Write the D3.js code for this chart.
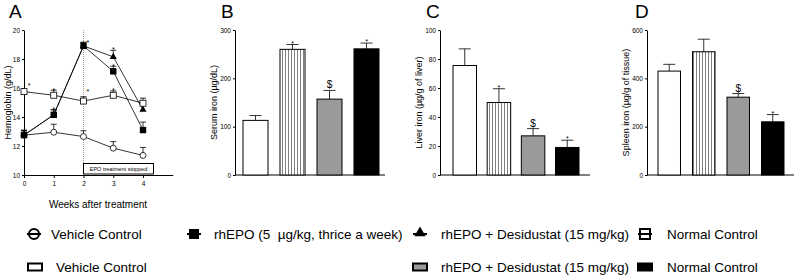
<!DOCTYPE html>
<html>
<head>
<meta charset="utf-8">
<title>Hemoglobin and iron</title>
<script src="https://d3js.org/d3.v7.min.js"></script>
<style>
  body { margin: 0; background: #fff; }
  text { font-family: Arial, "Liberation Sans", sans-serif; fill: #000; }
</style>
</head>
<body>
<script>
// ---- data ----
const weeks = [0, 1, 2, 3, 4];
const vehicleHb = [12.75, 12.95, 12.65, 11.85, 11.35];
const vehicleHbErr = [0.35, 0.55, 0.4, 0.45, 0.55];
const rhepoHb = [12.75, 14.15, 18.9, 17.15, 13.1];
const rhepoHbErr = [0.3, 0.35, 0.25, 0.35, 0.55];
const desiHb = [12.75, 14.15, 18.9, 18.15, 14.5];
const desiHbErr = [0.3, 0.35, 0.25, 0.45, 0.35];
const normalHb = [15.75, 15.5, 15.1, 15.5, 14.95];
const normalHbErr = [0.1, 0.35, 0.3, 0.3, 0.35];
// asterisks in panel A: [week, level]
const hbStars = [[0.17, 16.3], [1, 15.95], [1, 14.6], [2.15, 19.25], [2.15, 15.85], [3, 18.75], [3, 17.6], [3, 15.95]];

const groups = ["Vehicle Control", "rhEPO", "rhEPO + Desidustat", "Normal Control"];
const serumIron = [113, 260, 157, 261];
const serumIronErr = [10, 10, 18, 12];
const serumIronSig = ["", "*", "$", "*"];
const liverIron = [75.5, 50, 27, 19];
const liverIronErr = [11.5, 9.5, 5, 5];
const liverIronSig = ["", "*", "$", "*"];
const spleenIron = [430, 510, 322, 220];
const spleenIronErr = [28, 52, 15, 30];
const spleenIronSig = ["", "", "$", "*"];

const W = 797, H = 276;
const svg = d3.select("body").append("svg").attr("width", W).attr("height", H);

const defs = svg.append("defs");
const pat = defs.append("pattern").attr("id", "stripes")
  .attr("patternUnits", "userSpaceOnUse").attr("width", 3).attr("height", 10);
pat.append("rect").attr("width", 3).attr("height", 10).attr("fill", "#fff");
pat.append("rect").attr("width", 1).attr("height", 10).attr("fill", "#808080");

const fills = ["#fff", "url(#stripes)", "#9a9a9a", "#000"];
const plotTop = 30, plotBottom = 175;

function styleAxis(g) {
  g.selectAll("path, line").attr("stroke", "#000").attr("stroke-width", 1);
  g.selectAll("text").attr("fill", "#000").style("font-size", "6.5px");
}

// ==================
// Panel A: hemoglobin over weeks
// ==================
const ax = d3.scaleLinear().domain([0, 5]).range([24, 172.75]);
const ay = d3.scaleLinear().domain([10, 20]).range([plotBottom, plotTop]);

svg.append("text").attr("x", 9).attr("y", 18).style("font-size", "19px").text("A");

svg.append("g").attr("transform", "translate(0," + plotBottom + ")")
  .call(d3.axisBottom(ax).tickValues(weeks).tickFormat(d3.format("d")).tickSize(3).tickSizeOuter(0).tickPadding(3))
  .call(styleAxis);
svg.append("g").attr("transform", "translate(24,0)")
  .call(d3.axisLeft(ay).tickValues([10, 12, 14, 16, 18, 20]).tickSize(2).tickSizeOuter(0).tickPadding(2))
  .call(styleAxis);

svg.append("text").attr("transform", "translate(11," + ay(15) + ") rotate(-90)")
  .attr("text-anchor", "middle").style("font-size", "9px").text("Hemoglobin (g/dL)");
svg.append("text").attr("x", 98).attr("y", 208).attr("text-anchor", "middle")
  .style("font-size", "10px").text("Weeks after treatment");

// dotted line and box
svg.append("line").attr("x1", ax(2)).attr("x2", ax(2)).attr("y1", ay(20)).attr("y2", 163.5)
  .attr("stroke", "#999").attr("stroke-dasharray", "1,1");
svg.append("rect").attr("x", ax(2)).attr("y", 163.5).attr("width", 70).attr("height", 10.5)
  .attr("fill", "#fff").attr("stroke", "#000").attr("stroke-width", 1);
svg.append("text").attr("x", ax(2) + 35).attr("y", 171).attr("text-anchor", "middle")
  .style("font-size", "5.5px").text("EPO treatment stopped");

const hbSeries = [
  {vals: desiHb, err: desiHbErr, shape: "tri"},
  {vals: vehicleHb, err: vehicleHbErr, shape: "circle"},
  {vals: normalHb, err: normalHbErr, shape: "opensq"},
  {vals: rhepoHb, err: rhepoHbErr, shape: "sq"}
];

const line = d3.line().x((d, i) => ax(weeks[i])).y(d => ay(d));

hbSeries.forEach(function(s) {
  const g = svg.append("g");
  g.append("path").attr("d", line(s.vals)).attr("fill", "none").attr("stroke", "#000").attr("stroke-width", 0.8);
  s.vals.forEach(function(v, i) {
    const x = ax(weeks[i]);
    const y0 = ay(v), y1 = ay(v + s.err[i]);
    g.append("line").attr("x1", x).attr("x2", x).attr("y1", y0).attr("y2", y1).attr("stroke", "#000").attr("stroke-width", 0.8);
    g.append("line").attr("x1", x - 3).attr("x2", x + 3).attr("y1", y1).attr("y2", y1).attr("stroke", "#000").attr("stroke-width", 0.8);
  });
  s.vals.forEach(function(v, i) {
    const x = ax(weeks[i]), y = ay(v);
    if (s.shape === "circle") {
      g.append("circle").attr("cx", x).attr("cy", y).attr("r", 3).attr("fill", "#fff").attr("stroke", "#000").attr("stroke-width", 0.8);
    } else if (s.shape === "opensq") {
      g.append("rect").attr("x", x - 3).attr("y", y - 3).attr("width", 6).attr("height", 6)
        .attr("fill", "#fff").attr("stroke", "#000").attr("stroke-width", 0.8);
    } else if (s.shape === "sq") {
      g.append("rect").attr("x", x - 3.2).attr("y", y - 3.2).attr("width", 6.4).attr("height", 6.4).attr("fill", "#000");
    } else {
      g.append("path").attr("d", d3.symbol(d3.symbolTriangle, 22)())
        .attr("transform", "translate(" + x + "," + y + ")").attr("fill", "#000");
    }
  });
});

hbStars.forEach(function(p) {
  svg.append("text").attr("x", ax(p[0])).attr("y", ay(p[1]) + 4).attr("text-anchor", "middle")
    .style("font-size", "7px").text("*");
});

// ==================
// Bar panels B, C, D
// ==================
function barPanel(opt) {
  const x = d3.scaleBand().domain(groups).range([opt.barStart, opt.barEnd]).paddingInner(opt.padIn).paddingOuter(0);
  const y = d3.scaleLinear().domain([0, opt.max]).range([plotBottom, plotTop]);

  svg.append("text").attr("x", opt.letterX).attr("y", 18).style("font-size", "19px").text(opt.letter);

  svg.append("g").attr("transform", "translate(" + opt.left + ",0)")
    .call(d3.axisLeft(y).tickValues(opt.ticks).tickSize(2).tickSizeOuter(0).tickPadding(2))
    .call(styleAxis);
  svg.append("line").attr("x1", opt.left).attr("x2", opt.right).attr("y1", plotBottom).attr("y2", plotBottom)
    .attr("stroke", "#000");

  svg.append("text").attr("transform", "translate(" + opt.titleX + "," + ((plotTop + plotBottom) / 2) + ") rotate(-90)")
    .attr("text-anchor", "middle").style("font-size", "9px").text(opt.title);

  opt.vals.forEach(function(v, i) {
    const bx = x(groups[i]), bw = x.bandwidth();
    const yt = y(v), ye = y(v + opt.err[i]), cx = bx + bw / 2;
    svg.append("line").attr("x1", cx).attr("x2", cx).attr("y1", yt).attr("y2", ye).attr("stroke", "#000").attr("stroke-width", 0.8);
    svg.append("line").attr("x1", cx - 6).attr("x2", cx + 6).attr("y1", ye).attr("y2", ye).attr("stroke", "#000").attr("stroke-width", 0.8);
    svg.append("rect").attr("x", bx).attr("y", yt).attr("width", bw).attr("height", plotBottom - yt)
      .attr("fill", fills[i]).attr("stroke", "#000").attr("stroke-width", 1);
    if (opt.sig[i]) {
      const isStar = opt.sig[i] === "*";
      svg.append("text").attr("x", cx).attr("y", ye - (isStar ? -1 : 2)).attr("text-anchor", "middle")
        .style("font-size", isStar ? "7px" : "10px").text(opt.sig[i]);
    }
  });
}

barPanel({letter: "B", letterX: 221, left: 235, right: 385, barStart: 243, barEnd: 379, padIn: 0.324,
  max: 300, ticks: [0, 100, 200, 300],
  vals: serumIron, err: serumIronErr, sig: serumIronSig, title: "Serum iron (\u00b5g/dL)", titleX: 217});
barPanel({letter: "C", letterX: 426, left: 440, right: 590, barStart: 453, barEnd: 579, padIn: 0.312,
  max: 100, ticks: [0, 20, 40, 60, 80, 100],
  vals: liverIron, err: liverIronErr, sig: liverIronSig, title: "Liver iron (\u00b5g/g of liver)", titleX: 422});
barPanel({letter: "D", letterX: 635, left: 647, right: 794, barStart: 658, barEnd: 784, padIn: 0.348,
  max: 600, ticks: [0, 200, 400, 600],
  vals: spleenIron, err: spleenIronErr, sig: spleenIronSig, title: "Spleen iron (\u00b5g/g of tissue)", titleX: 629});

// ==================
// Legend
// ==================
const leg = svg.append("g");
function legText(x, y, t) {
  leg.append("text").attr("x", x).attr("y", y + 5).style("font-size", "13.5px").style("white-space", "pre").text(t);
}
function legLine(x, y) {
  leg.append("line").attr("x1", x - 7).attr("x2", x + 7).attr("y1", y).attr("y2", y).attr("stroke", "#000").attr("stroke-width", 2);
}
const r1 = 234, r2 = 267;
// row 1: line series
legLine(34, r1);
leg.append("circle").attr("cx", 34).attr("cy", r1).attr("r", 5).attr("fill", "none").attr("stroke", "#000").attr("stroke-width", 2);
legText(51, r1, "Vehicle Control");
legLine(194, r1);
leg.append("rect").attr("x", 189).attr("y", r1 - 5).attr("width", 10).attr("height", 10).attr("fill", "#000");
legText(214, r1, "rhEPO (5  \u00b5g/kg, thrice a week)");
legLine(420, r1);
leg.append("path").attr("d", d3.symbol(d3.symbolTriangle, 55)()).attr("transform", "translate(420," + (r1 - 1) + ")").attr("fill", "#000");
legText(441, r1, "rhEPO + Desidustat (15 mg/kg)");
legLine(645, r1);
leg.append("rect").attr("x", 640).attr("y", r1 - 5).attr("width", 10).attr("height", 10).attr("fill", "none").attr("stroke", "#000").attr("stroke-width", 2);
legText(667, r1, "Normal Control");
// row 2: bar series
[[35, 56, fills[0], "Vehicle Control"], [420, 441, fills[2], "rhEPO + Desidustat (15 mg/kg)"], [645, 667, fills[3], "Normal Control"]]
  .forEach(function(d) {
    leg.append("rect").attr("x", d[0] - 7).attr("y", r2 - 3.5).attr("width", 14).attr("height", 7)
      .attr("fill", d[2]).attr("stroke", "#000").attr("stroke-width", 2);
    legText(d[1], r2, d[3]);
  });
</script>
</body>
</html>
